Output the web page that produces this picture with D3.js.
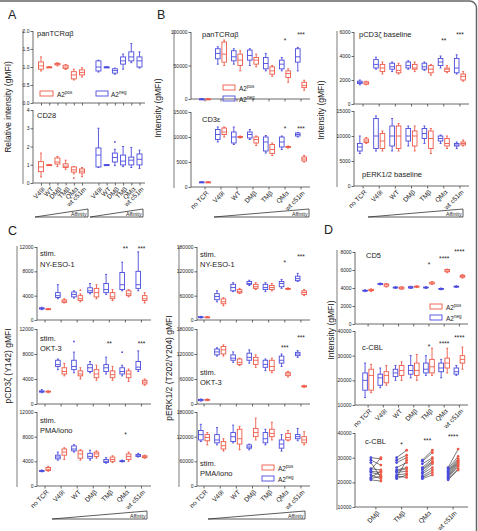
<!DOCTYPE html>
<html><head><meta charset="utf-8">
<script src="https://cdn.jsdelivr.net/npm/d3@7"></script>
<style>body{margin:0;background:#fff}svg{display:block}text{font-family:"Liberation Sans",Arial,Helvetica,sans-serif}</style>
</head><body><svg id="c" width="478" height="531"></svg>
<script>
const RED="#ee5a48", BLUE="#4b4bdc", AX="#444";
const cats7=["no TCR","V49I","WT","DMβ","TMβ","QMα","wt c51m"];
const cats6=["V49I","WT","DMβ","TMβ","QMα","wt c51m"];
const catsPair=["DMβ","TMβ","QMα","wt c51m"];

// ---- Panel A (relative intensity) [min,q1,median,q3,max]
const aPanTcrPos=[[0.89,0.94,1.03,1.14,1.28],[1,1,1,1,1],[1.03,1.06,1.08,1.10,1.12],[0.93,0.96,1.0,1.05,1.07],[0.64,0.67,0.78,0.87,0.94],[0.72,0.78,0.85,0.92,0.98]];
const aPanTcrNeg=[[0.86,0.89,1.0,1.17,1.19],[1,1,1,1,1],[0.8,0.83,0.9,0.95,0.97],[0.94,1.08,1.17,1.28,1.36],[1.12,1.17,1.28,1.42,1.65],[0.97,1.0,1.17,1.28,1.42]];
const aCd28Pos=[[0.33,0.62,0.88,1.17,1.64],[1,1,1,1,1],[0.9,1.04,1.15,1.37,1.45],[0.75,0.85,0.92,1.05,1.25],[0.5,0.6,0.72,0.88,0.9],[0.35,0.55,0.65,0.77,0.85]];
const aCd28Neg=[[0.85,0.88,1.53,1.92,3.0],[1,1,1,1,1],[0.95,1.15,1.4,1.64,1.85],[0.9,0.99,1.2,1.53,2.0],[0.85,0.99,1.25,1.42,1.95],[0.8,0.99,1.3,1.59,1.8]];
const aCd28PosOut=[["QMα",0.27]];
const aCd28NegOut=[["DMβ",2.25]];

// ---- Panel B
const bPanTcrNeg=[[0,0,0,0,0],[52000,60000,68000,75000,78000],[52000,57000,63000,72000,75000],[50000,58000,65000,73000,75000],[42000,45000,53000,62000,68000],[42000,45000,52000,58000,62000],[42000,55000,63000,75000,77000]];
const bPanTcrPos=[[0,0,0,0,0],[50000,55000,67000,85000,88000],[42000,50000,58000,67000,72000],[48000,52000,58000,62000,67000],[34000,37000,42000,48000,50000],[25000,32000,38000,42000,45000],[13000,17000,20000,25000,28000]];
const bCd3Neg=[[1000,1000,1000,1000,1000],[9000,9500,10500,11500,12000],[8500,8800,10000,11000,12000],[9500,9800,10500,11000,11500],[6800,7200,9000,10000,10300],[7500,8000,9000,10000,10200],[10000,10200,10500,10800,10900]];
const bCd3Pos=[[1000,1000,1000,1000,1000],[10000,10500,11000,11800,12000],[9800,9900,10000,10100,10200],[8300,8800,9500,10000,10200],[6300,6700,7500,8500,8800],[7800,7900,8000,8100,8200],[5000,5200,5600,6000,6300]];
const bPcd3Neg=[[1600,1700,1800,1900,2000],[2900,3000,3300,3700,3900],[2700,2900,3100,3400,3500],[2900,3000,3200,3500,3600],[2800,2900,3100,3400,3500],[3000,3200,3500,3800,4000],[2500,2600,3000,3800,4100]];
const bPcd3Pos=[[1600,1650,1750,1850,1900],[2500,2700,3000,3300,3500],[2500,2600,2800,3200,3400],[2700,2900,3000,3300,3500],[2400,2600,2900,3200,3300],[2600,2700,2900,3000,3200],[1900,2000,2300,2500,2700]];
const bPerkNeg=[[6500,7000,7800,8500,10000],[7000,7500,10000,13500,14000],[7000,8000,10000,12000,13500],[8000,9000,10000,11500,12000],[8500,9500,10500,11500,12000],[8500,9000,9500,10000,10200],[7500,8000,8200,8500,8800]];
const bPerkPos=[[8500,8700,9000,9400,9700],[7000,7500,9000,10500,11000],[7000,7500,10000,12000,12500],[7000,8000,10000,11000,12000],[6500,7500,9500,11000,11500],[7500,8000,8500,9500,10000],[8000,8200,8500,8800,9200]];
// significance: [category, label, height in data units]
const bPanTcrStars=[["QMα","*",89000],["wt c51m","***",98000]];
const bCd3Stars=[["QMα","*",12000],["wt c51m","***",12000]];
const bPcd3Stars=[["QMα","**",5350],["wt c51m","***",5900]];

// ---- Panel C
const cNyPcdNeg=[[1700,1800,1900,2000,2100],[3500,3700,4000,4500,5800],[3600,3800,4200,4600,4800],[4300,4500,4800,5300,6000],[4200,4500,5000,6000,7500],[4800,5000,5800,7800,9500],[4800,5200,5800,8000,11200]];
const cNyPcdPos=[[1700,1750,1800,1850,1900],[2800,2900,3100,3300,3500],[3000,3200,3500,4000,4300],[3500,3800,4500,5200,5800],[3200,3500,3800,4500,5000],[3800,4000,4300,4800,5000],[2800,3200,3500,4000,4500]];
const cNyPcdPosOut=[["WT",4900]];
const cOktPcdNeg=[[1800,1900,2000,2100,2300],[5500,6000,6300,7000,7200],[5000,5500,6000,7000,8300],[5000,5200,5800,6300,6800],[4800,5200,5800,6300,7500],[4500,4800,5200,5800,6200],[5200,5500,5900,6800,8500]];
const cOktPcdPos=[[1800,1900,2000,2050,2100],[4500,4800,5200,5800,6500],[4000,4500,4800,5300,5800],[3800,4200,4800,5500,6200],[3800,4200,4700,5300,6000],[3600,4200,4800,5300,5600],[3000,3200,3500,3800,4000]];
const cOktPcdNegOut=[["WT",10000],["QMα",8300]];
const cPmaPcdNeg=[[2300,2400,2450,2500,2600],[4200,4400,4700,5000,5500],[5500,5700,6000,6500,6700],[4200,4500,4800,5300,5800],[3700,3800,4000,4300,4600],[3900,4000,4050,4100,4200],[4700,4800,4900,5100,5300]];
const cPmaPcdPos=[[2400,2500,2700,3000,3200],[4300,5000,5500,6000,6200],[4200,4500,5200,5700,5900],[4500,4800,5200,5500,5700],[3800,4000,4300,4700,4900],[4000,4300,4800,5200,5500],[4500,4600,4750,4900,5000]];
const cNyErkNeg=[[5000,6000,7000,8000,9000],[45000,50000,58000,65000,72000],[70000,72000,80000,88000,92000],[85000,88000,90000,95000,98000],[70000,75000,80000,88000,92000],[78000,82000,90000,95000,100000],[95000,97000,102000,108000,115000]];
const cNyErkPos=[[6000,6500,7000,7500,8000],[35000,40000,45000,52000,55000],[65000,67000,70000,75000,78000],[75000,78000,82000,88000,92000],[72000,75000,80000,85000,90000],[75000,76000,77000,78000,79000],[60000,63000,68000,72000,75000]];
const cOktErkNeg=[[7000,8000,10000,11000,12000],[115000,118000,125000,132000,135000],[100000,105000,110000,118000,125000],[98000,105000,112000,122000,130000],[80000,88000,95000,105000,108000],[90000,98000,105000,115000,120000],[112000,116000,120000,124000,128000]];
const cOktErkPos=[[8000,9000,10000,11000,12000],[115000,120000,130000,138000,142000],[92000,95000,100000,108000,110000],[88000,95000,105000,112000,118000],[75000,80000,90000,105000,110000],[65000,68000,72000,76000,78000],[40000,41000,42000,44000,45000]];
const cPmaErkNeg=[[108000,112000,125000,135000,150000],[100000,105000,112000,125000,142000],[105000,108000,120000,130000,148000],[88000,92000,95000,100000,102000],[100000,105000,115000,130000,138000],[85000,92000,102000,112000,125000],[110000,115000,120000,125000,140000]];
const cPmaErkPos=[[100000,110000,118000,125000,130000],[85000,90000,98000,108000,115000],[88000,102000,115000,138000,145000],[112000,120000,130000,140000,165000],[112000,120000,128000,138000,155000],[110000,112000,118000,128000,135000],[100000,105000,112000,120000,132000]];
const cNyPcdStars=[["QMα","**",11900],["wt c51m","***",11900]];
const cOktPcdStars=[["TMβ","**",9900],["wt c51m","***",9900]];
const cPmaPcdStars=[["QMα","*",8500]];
const cNyErkStars=[["QMα","*",145000],["wt c51m","***",160000]];
const cOktErkStars=[["QMα","***",137000],["wt c51m","***",161000]];

// ---- Panel D
const dCd5Neg=[[3600,3650,3700,3750,3800],[4350,4400,4450,4500,4550],[3950,4000,4050,4100,4150],[3950,4000,4050,4150,4200],[3950,4000,4050,4100,4150],[3800,3850,3900,3950,4000],[4050,4100,4150,4200,4250]];
const dCd5Pos=[[3600,3700,3750,3850,3900],[4100,4200,4350,4450,4500],[3850,3900,4000,4100,4150],[4050,4100,4150,4200,4250],[4400,4450,4550,4650,4700],[5700,5800,5900,6050,6100],[5100,5200,5300,5400,5500]];
const dCblNeg=[[13000,16000,20000,23000,27000],[17000,18000,21000,22500,25000],[20000,21500,23000,24500,26000],[21000,22500,24000,26000,30000],[22000,23000,24500,27000,30000],[21000,23500,25000,27000,28500],[22000,22500,23500,25000,26000]];
const dCblPos=[[15000,16000,22000,24500,26500],[18000,19000,22000,23500,26000],[20000,22000,24000,26000,27500],[20000,22000,24000,27000,30500],[22000,23000,25500,28500,33000],[23000,25000,27000,29000,33000],[24500,27000,28500,30000,33500]];
const dCd5Stars=[["TMβ","*",6700],["QMα","****",7450],["wt c51m","****",8200]];
const dCblStars=[["TMβ","*",34300],["QMα","****",35500],["wt c51m","****",37600]];
// paired [A2neg, A2pos]
const dPairDM=[[30000,29500],[29000,27000],[28000,22000],[25500,25000],[25000,30000],[24500,24000],[24000,23000],[23000,21500],[22000,24500],[21500,22500],[21000,20500]];
const dPairTM=[[30000,33000],[29000,31000],[28000,30000],[26000,28000],[25000,26000],[24500,25500],[24000,24500],[23000,23500],[22500,22000],[22000,29000],[21500,23000]];
const dPairQM=[[29000,33000],[28500,32000],[27500,30000],[26000,29500],[25500,28500],[25000,28000],[24000,27500],[23500,26000],[22500,25000],[22000,24000],[21500,23000]];
const dPairC51=[[26000,33500],[25500,30500],[25000,29500],[24500,29000],[24000,28500],[23500,28000],[23000,27500],[22500,27000],[22000,26500],[21500,25500],[21000,25000]];
const dPairStars=[["TMβ","*",35900],["QMα","***",37200],["wt c51m","****",39200]];

const svg=d3.select("#c");
const FONT="Liberation Sans, Arial, sans-serif";

// frame
svg.append("rect").attr("x",-8).attr("y",1).attr("width",484.5).attr("height",560).attr("rx",7)
  .attr("fill","none").attr("stroke","#666").attr("stroke-width",1.5);

function txt(x,y,s,fs,opt={}){
  const t=svg.append("text").attr("x",x).attr("y",y).attr("font-size",fs).attr("fill",opt.fill||"#222")
    .attr("text-anchor",opt.anchor||"start").text(s);
  if(opt.rotate) t.attr("transform",`rotate(${opt.rotate},${x},${y})`);
  return t;
}
function styleAxis(ax,fs){
  ax.select(".domain").attr("stroke",AX).attr("stroke-width",0.8);
  ax.selectAll(".tick line").attr("stroke",AX).attr("stroke-width",0.8);
  ax.selectAll(".tick text").attr("font-size",fs).attr("fill","#222").attr("font-family",FONT);
}
function yAxis(axisX,yTop,yBot,domain,ticks,fmt){
  const y=d3.scaleLinear().domain(domain).range([yBot,yTop]);
  const ax=svg.append("g").attr("transform",`translate(${axisX},0)`)
    .call(d3.axisLeft(y).tickValues(ticks).tickSize(2.5).tickSizeOuter(0).tickPadding(1).tickFormat(fmt||d3.format("d")));
  ax.select(".domain").attr("d",`M0,${yBot}V${yTop}`);
  styleAxis(ax,5);
  return y;
}
function xAxis(x,yBot,axisX,xEnd,labels,tickVals){
  const a=d3.axisBottom(x).tickSize(2.5).tickSizeOuter(0).tickPadding(1);
  if(tickVals) a.tickValues(tickVals);
  if(labels) a.tickFormat(labels===true?(d=>d):labels);
  const ax=svg.append("g").attr("transform",`translate(0,${yBot})`).call(a);
  ax.select(".domain").attr("d",`M${axisX},0H${xEnd}`);
  styleAxis(ax,6.6);
  if(labels){
    ax.selectAll(".tick text").attr("text-anchor","end").attr("x",0).attr("y",0).attr("dy","0.35em")
      .attr("transform","translate(2.5,5) rotate(-45)");
  } else ax.selectAll(".tick text").remove();
  return ax;
}
function deco(x,y1,y2){
  svg.append("line").attr("x1",x).attr("x2",x).attr("y1",y1).attr("y2",y2).attr("stroke","#9a9a9a").attr("stroke-width",1.3);
}
function affinity(x0,x1,yb){
  svg.append("path").attr("d",`M${x0},${yb}L${x1},${yb-8}L${x1},${yb}Z`).attr("fill","none").attr("stroke","#333").attr("stroke-width",0.8);
  txt(x1-1.5,yb-1.5,"Affinity",5.2,{anchor:"end"});
}
function drawBoxes(y,xpos,data,color,w){
  const g=svg.append("g").attr("stroke",color).attr("fill","none").attr("stroke-width",0.9);
  data.forEach((d,i)=>{
    const cx=xpos(i); const [mn,q1,md,q3,mx]=d.map(v=>y(v));
    g.append("line").attr("x1",cx).attr("x2",cx).attr("y1",mx).attr("y2",mn);
    g.append("line").attr("x1",cx-1).attr("x2",cx+1).attr("y1",mx).attr("y2",mx);
    g.append("line").attr("x1",cx-1).attr("x2",cx+1).attr("y1",mn).attr("y2",mn);
    g.append("rect").attr("x",cx-w/2).attr("y",q3).attr("width",w).attr("height",Math.max(q1-q3,0.9)).attr("fill","#fff");
    g.append("line").attr("x1",cx-w/2).attr("x2",cx+w/2).attr("y1",md).attr("y2",md);
  });
}
function outliers(y,xof,list,color){
  list.forEach(([c,v])=>svg.append("circle").attr("cx",xof(c)).attr("cy",y(v)).attr("r",0.9).attr("fill",color));
}
function stars(y,xof,list){
  list.forEach(([c,s,lv])=>txt(xof(c),y(lv),s,6.5,{anchor:"middle"}).attr("dy","0.55em"));
}
function legend(x,y){
  svg.append("rect").attr("x",x).attr("y",y).attr("width",12).attr("height",5).attr("fill","none").attr("stroke",RED).attr("stroke-width",0.9);
  svg.append("rect").attr("x",x).attr("y",y+11).attr("width",12).attr("height",5).attr("fill","none").attr("stroke",BLUE).attr("stroke-width",0.9);
  [["pos",y+5.5],["neg",y+16.5]].forEach(([s,yy])=>{
    const t=txt(x+16,yy,"A2",6.5);
    t.append("tspan").attr("dy",-3).attr("font-size",4.5).text(s);
  });
}
function grouped(cfg){
  const x=d3.scaleBand().domain(cats7).range(cfg.range);
  const bw=x.bandwidth(), off=bw*0.2;
  const xc=c=>x(c)+bw/2;
  const y=yAxis(cfg.axisX,cfg.yTop,cfg.yBot,cfg.domain,cfg.ticks);
  xAxis(x,cfg.yBot,cfg.axisX,cfg.xEnd,cfg.labels);
  drawBoxes(y,i=>xc(cats7[i])-off,cfg.neg,BLUE,4.6);
  drawBoxes(y,i=>xc(cats7[i])+off,cfg.pos,RED,4.6);
  if(cfg.negOut) outliers(y,c=>xc(c)-off,cfg.negOut,BLUE);
  if(cfg.posOut) outliers(y,c=>xc(c)+off,cfg.posOut,RED);
  if(cfg.stars) stars(y,xc,cfg.stars);
  return {x,y,xc};
}

// ===== Panel A =====
txt(8,19,"A",12.5);
deco(23,30,184);
const aKeys=[...cats6.map(c=>"p|"+c),"gap",...cats6.map(c=>"n|"+c)];
const ax_=d3.scalePoint().domain(aKeys).range([41,139.5]);
const aTicks=aKeys.filter(k=>k!=="gap");
{
  const y=yAxis(33,31,103,[0,2],[0,0.5,1,1.5,2],d3.format(".1f"));
  xAxis(ax_,103,33,145,false,aTicks);
  drawBoxes(y,i=>ax_("p|"+cats6[i]),aPanTcrPos,RED,5);
  drawBoxes(y,i=>ax_("n|"+cats6[i]),aPanTcrNeg,BLUE,5);
  txt(37,36,"panTCRαβ",7.5);
  svg.append("rect").attr("x",40).attr("y",91).attr("width",13).attr("height",5).attr("fill","none").attr("stroke",RED).attr("stroke-width",0.9);
  svg.append("rect").attr("x",96).attr("y",91).attr("width",12).attr("height",5).attr("fill","none").attr("stroke",BLUE).attr("stroke-width",0.9);
  const t1=txt(57,96.5,"A2",6.5); t1.append("tspan").attr("dy",-3).attr("font-size",4.5).text("pos");
  const t2=txt(111,96.5,"A2",6.5); t2.append("tspan").attr("dy",-3).attr("font-size",4.5).text("neg");
}
{
  const y=yAxis(33,110,183,[0,4],[0,1,2,3,4]);
  xAxis(ax_,183,33,145,k=>k.split("|")[1],aTicks);
  drawBoxes(y,i=>ax_("p|"+cats6[i]),aCd28Pos,RED,5);
  drawBoxes(y,i=>ax_("n|"+cats6[i]),aCd28Neg,BLUE,5);
  outliers(y,c=>ax_("p|"+c),aCd28PosOut,RED);
  outliers(y,c=>ax_("n|"+c),aCd28NegOut,BLUE);
  txt(37,118,"CD28",7.5);
}
affinity(35,88,217); affinity(90,143,217);
txt(11,107,"Relative intensity (gMFI)",8.5,{anchor:"middle",rotate:-90});

// ===== Panel B =====
txt(157,19,"B",12.5);
deco(174,30,188);
grouped({range:[197,309],axisX:191,xEnd:310,yTop:32,yBot:99,domain:[0,100000],ticks:[0,50000,100000],
  neg:bPanTcrNeg,pos:bPanTcrPos,stars:bPanTcrStars});
txt(202,37,"panTCRαβ",7.5);
legend(223,85);
grouped({range:[197,309],axisX:191,xEnd:310,yTop:112,yBot:187,domain:[0,15000],ticks:[0,5000,10000,15000],
  neg:bCd3Neg,pos:bCd3Pos,labels:true,stars:bCd3Stars});
txt(202,122,"CD3ε",7.5);
affinity(214,309,217);
txt(161,108,"Intensity (gMFI)",8.5,{anchor:"middle",rotate:-90});
deco(337,31,187);
grouped({range:[355,468],axisX:354,xEnd:469,yTop:32,yBot:104,domain:[0,6000],ticks:[0,2000,4000,6000],
  neg:bPcd3Neg,pos:bPcd3Pos,stars:bPcd3Stars});
txt(359,37,"pCD3ζ baseline",7.5);
grouped({range:[355,468],axisX:354,xEnd:469,yTop:111,yBot:186,domain:[0,15000],ticks:[0,5000,10000,15000],
  neg:bPerkNeg,pos:bPerkPos,labels:true});
txt(362,177,"pERK1/2 baseline",7.5);
affinity(368,463,217);
txt(324,110,"Intensity (gMFI)",8.5,{anchor:"middle",rotate:-90});

// ===== Panel C =====
txt(8,235,"C",12.5);
deco(17,246,487);
grouped({range:[37,149.5],axisX:37,xEnd:151,yTop:247,yBot:320,domain:[0,12000],ticks:[0,4000,8000,12000],
  neg:cNyPcdNeg,pos:cNyPcdPos,posOut:cNyPcdPosOut,stars:cNyPcdStars});
txt(40,256,"stim.",7.5); txt(40,267,"NY-ESO-1",7.5);
grouped({range:[37,149.5],axisX:37,xEnd:151,yTop:329,yBot:404,domain:[0,12000],ticks:[0,4000,8000,12000],
  neg:cOktPcdNeg,pos:cOktPcdPos,negOut:cOktPcdNegOut,stars:cOktPcdStars});
txt(40,341,"stim.",7.5); txt(40,351,"OKT-3",7.5);
grouped({range:[37,149.5],axisX:37,xEnd:151,yTop:412,yBot:486,domain:[0,12000],ticks:[0,4000,8000,12000],
  neg:cPmaPcdNeg,pos:cPmaPcdPos,labels:true,stars:cPmaPcdStars});
txt(40,423,"stim.",7.5); txt(40,433,"PMA/iono",7.5);
affinity(52,147,519);
txt(11,366,"pCD3ζ (Y142) gMFI",8.5,{anchor:"middle",rotate:-90});

deco(179,246,487);
grouped({range:[196,309],axisX:197,xEnd:310,yTop:247,yBot:320,domain:[0,180000],ticks:[0,60000,120000,180000],
  neg:cNyErkNeg,pos:cNyErkPos,stars:cNyErkStars});
txt(200,257,"stim.",7.5); txt(200,267,"NY-ESO-1",7.5);
grouped({range:[196,309],axisX:197,xEnd:310,yTop:329,yBot:404,domain:[0,180000],ticks:[0,60000,120000,180000],
  neg:cOktErkNeg,pos:cOktErkPos,stars:cOktErkStars});
txt(200,375,"stim.",7.5); txt(200,385,"OKT-3",7.5);
grouped({range:[196,309],axisX:197,xEnd:310,yTop:412,yBot:486,domain:[0,180000],ticks:[0,60000,120000,180000],
  neg:cPmaErkNeg,pos:cPmaErkPos,labels:true});
txt(200,466,"stim.",7.5); txt(200,476,"PMA/iono",7.5);
legend(262,465);
affinity(208,305,519);
txt(172,368,"pERK1/2 (T202/Y204) gMFI",8.5,{anchor:"middle",rotate:-90});

// ===== Panel D =====
txt(324,234,"D",12.5);
deco(337,250,510);
grouped({range:[360.5,467],axisX:355,xEnd:468,yTop:252,yBot:324,domain:[0,8000],ticks:[0,2000,4000,6000,8000],
  neg:dCd5Neg,pos:dCd5Pos,stars:dCd5Stars});
txt(366,258,"CD5",7.5);
legend(430,304);
grouped({range:[360.5,467],axisX:355,xEnd:468,yTop:331,yBot:405,domain:[10000,40000],ticks:[10000,20000,30000,40000],
  neg:dCblNeg,pos:dCblPos,labels:true,stars:dCblStars});
txt(362,350,"c-CBL",7.5);
{
  const x=d3.scaleBand().domain(catsPair).range([363,466]);
  const bw=x.bandwidth(); const xc=c=>x(c)+bw/2;
  const y=yAxis(355,433,507,[10000,40000],[10000,20000,30000,40000]);
  xAxis(x,507,355,468,true);
  const sets=[dPairDM,dPairTM,dPairQM,dPairC51];
  sets.forEach((s,k)=>{
    const cx=xc(catsPair[k]);
    s.forEach(([a,b])=>{
      svg.append("line").attr("x1",cx-5).attr("x2",cx+5).attr("y1",y(a)).attr("y2",y(b)).attr("stroke","#222").attr("stroke-width",0.6);
    });
    s.forEach(([a,b])=>{
      svg.append("circle").attr("cx",cx-5).attr("cy",y(a)).attr("r",1.4).attr("fill",BLUE);
      svg.append("circle").attr("cx",cx+5).attr("cy",y(b)).attr("r",1.4).attr("fill",RED);
    });
  });
  stars(y,xc,dPairStars);
  txt(365,444,"c-CBL",7.5);
}
txt(334,330,"Intensity (gMFI)",8.5,{anchor:"middle",rotate:-90});
</script></body></html>
